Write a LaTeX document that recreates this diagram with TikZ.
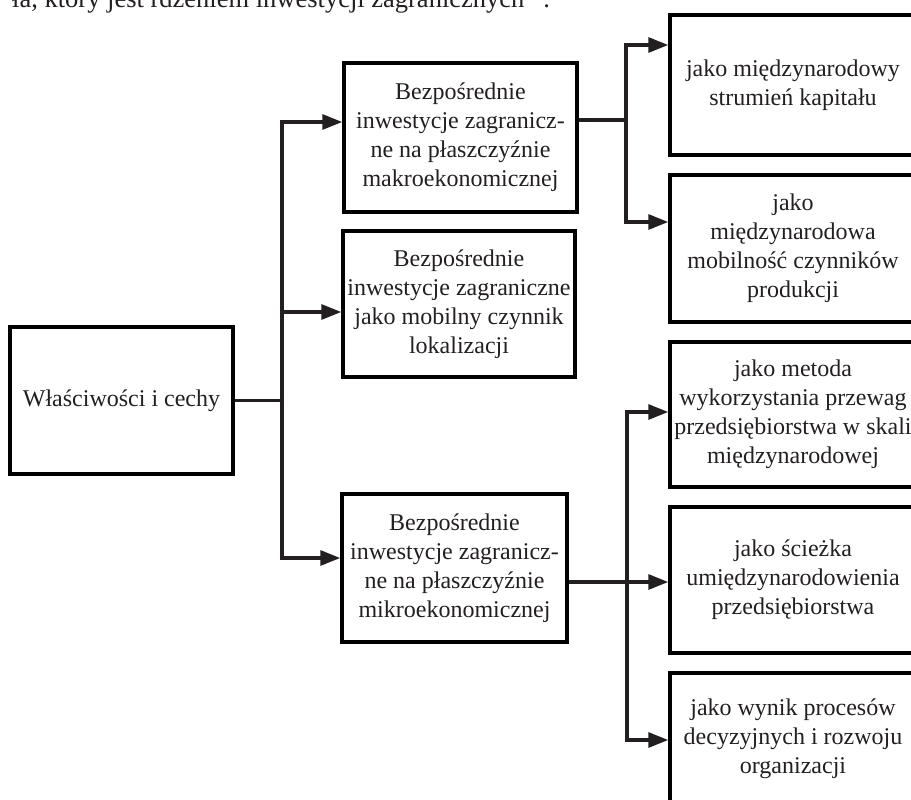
\documentclass[tikz,border=0pt]{standalone}
\usepackage{fontspec}
\setmainfont{Liberation Serif}
\usetikzlibrary{arrows.meta}
\definecolor{ink}{HTML}{231F20}
\begin{document}
\begin{tikzpicture}[x=1pt,y=-1pt,
  box/.style={draw=black, line width=3.5pt, rectangle, inner sep=0pt,
    align=center, text=ink, font=\fontsize{24}{29}\selectfont},
  conn/.style={draw=ink, line width=3.2pt},
  tip/.style={-{Triangle[length=20pt,width=15pt]}},
  tips/.style={{Triangle[length=20pt,width=15pt]}-{Triangle[length=20pt,width=15pt]}},
]
\useasboundingbox (0,0) rectangle (911,800);
\clip (0,0) rectangle (911,800);

% running text line above the chart
\node[anchor=base west, inner sep=0pt, text=ink, font=\fontsize{26.5}{30}\selectfont]
  (lead) at (12,8) {ła, który jest rdzeniem inwestycji zagranicznych\textsuperscript{10}.};

% root
\node[box, minimum width=223pt, minimum height=147pt] (root) at (121.5,400.5)
  {Właściwości i cechy};

% middle column
\node[box, minimum width=233pt, minimum height=149pt] (macro) at (460.5,137.5)
  {Bezpośrednie\\inwestycje zagranicz-\\ne na płaszczyźnie\\makroekonomicznej};
\node[box, minimum width=232pt, minimum height=146pt] (mobile) at (459,304)
  {Bezpośrednie\\inwestycje zagraniczne\\jako mobilny czynnik\\lokalizacji};
\node[box, minimum width=225pt, minimum height=148pt] (micro) at (454.5,568)
  {Bezpośrednie\\inwestycje zagranicz-\\ne na płaszczyźnie\\mikroekonomicznej};

% right column
\node[box, minimum width=246pt, minimum height=140pt] (r1) at (793,85)
  {jako międzynarodowy\\strumień kapitału};
\node[box, minimum width=246pt, minimum height=147pt] (r2) at (793,248.5)
  {jako\\międzynarodowa\\mobilność czynników\\produkcji};
\node[box, minimum width=246pt, minimum height=145pt] (r3) at (793,414.5)
  {jako metoda\\wykorzystania przewag\\przedsiębiorstwa w skali\\międzynarodowej};
\node[box, minimum width=246pt, minimum height=146pt] (r4) at (793,580)
  {jako ścieżka\\umiędzynarodowienia\\przedsiębiorstwa};
\node[box, minimum width=246pt, minimum height=132pt] (r5) at (793,739)
  {jako wynik procesów\\decyzyjnych i rozwoju\\organizacji};

% junction points
\coordinate (jA) at (282,122);
\coordinate (jB) at (282,312);
\coordinate (jC) at (282,558);
\coordinate (kA) at (626,120);
\coordinate (k1) at (626,45);
\coordinate (k2) at (626,222);
\coordinate (k3) at (627,412);
\coordinate (k4) at (627,582);
\coordinate (k5) at (627,740);

% root to middle column
\draw[conn] (root.east) -- (root.east -| jA);
\draw[conn, tips] (jA -| macro.west) -- (jA) -- (jC) -- (jC -| micro.west);
\draw[conn, tip] (jB) -- (jB -| mobile.west);

% macro branch
\draw[conn] (kA -| macro.east) -- (kA);
\draw[conn, tips] (k1 -| r1.west) -- (k1) -- (k2) -- (k2 -| r2.west);

% micro branch
\draw[conn, tips] (k3 -| r3.west) -- (k3) -- (k5) -- (k5 -| r5.west);
\draw[conn, tip] (k4 -| micro.east) -- (k4 -| r4.west);
\end{tikzpicture}
\end{document}
